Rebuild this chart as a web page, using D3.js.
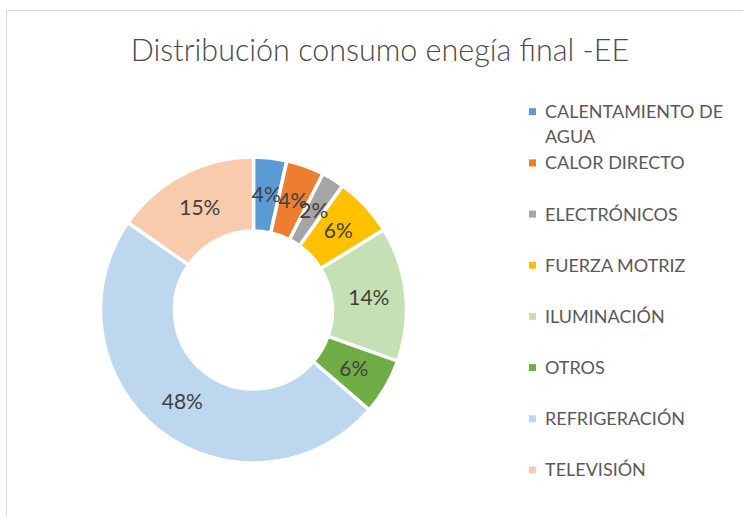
<!DOCTYPE html>
<html>
<head>
<meta charset="utf-8">
<script src="https://cdn.jsdelivr.net/npm/d3@7/dist/d3.min.js"></script>
<style>
  html, body { margin: 0; padding: 0; background: #fff; }
  svg { display: block; }
</style>
</head>
<body>
<svg id="chart" width="743" height="516"></svg>
<script>
const title = "Distribución consumo enegía final -EE";
const categories = ["CALENTAMIENTO DE AGUA", "CALOR DIRECTO", "ELECTRÓNICOS", "FUERZA MOTRIZ", "ILUMINACIÓN", "OTROS", "REFRIGERACIÓN", "TELEVISIÓN"];
const values = [3.5, 4.0, 2.4, 6.3, 14.2, 5.9, 48.3, 15.3];
const colors = ["#5B9BD5", "#ED7D31", "#A5A5A5", "#FFC000", "#C5E0B4", "#70AD47", "#BDD7EE", "#F8CBAD"];

const W = 743, H = 516;
const svg = d3.select("#chart");

// chart area border
svg.append("rect")
  .attr("x", 6.5).attr("y", 10.5)
  .attr("width", W).attr("height", H)
  .attr("fill", "#fff")
  .attr("stroke", "#d9d9d9").attr("stroke-width", 1);

// title
svg.append("text")
  .attr("x", 380).attr("y", 61)
  .attr("text-anchor", "middle")
  .attr("font-family", "Lato, 'Open Sans', sans-serif")
  .attr("font-weight", 300)
  .attr("font-size", 30.5)
  .attr("fill", "#4a4a4a")
  .text(title);

// donut
const cx = 253.5, cy = 310, rOuter = 153, rInner = 79;
const total = d3.sum(values);
const pie = d3.pie().sort(null).value(d => d.v);
const arcs = pie(categories.map((c, i) => ({ c, v: values[i], color: colors[i] })));
const arc = d3.arc().innerRadius(rInner).outerRadius(rOuter);
const labelArc = d3.arc().innerRadius((rInner + rOuter) / 2).outerRadius((rInner + rOuter) / 2);

const g = svg.append("g").attr("transform", `translate(${cx},${cy})`);
g.selectAll("path.slice").data(arcs).join("path")
  .attr("class", "slice")
  .attr("d", arc)
  .attr("fill", d => d.data.color)
  .attr("stroke", "#fff")
  .attr("stroke-width", 3.5)
  .attr("stroke-linejoin", "miter");

const pct = d3.format(".0%");
g.selectAll("text.lbl").data(arcs).join("text")
  .attr("class", "lbl")
  .attr("transform", d => `translate(${labelArc.centroid(d)})`)
  .attr("text-anchor", "middle")
  .attr("dy", "0.36em")
  .attr("font-family", "Lato, 'Open Sans', sans-serif")
  .attr("font-size", 21)
  .attr("fill", "#404040")
  .text(d => pct(d.data.v / total));

// legend
const legendY = d3.scaleLinear().domain([0, categories.length - 1]).range([111.7, 470]);
const lg = svg.append("g");
const maxW = 185;
categories.forEach((c, i) => {
  const y = legendY(i);
  lg.append("rect")
    .attr("x", 529).attr("y", y - 3.5)
    .attr("width", 7).attr("height", 7)
    .attr("fill", colors[i]);
  const t = lg.append("text")
    .attr("x", 545).attr("y", y)
    .attr("font-family", "Lato, 'Open Sans', sans-serif")
    .attr("font-size", 18)
    .attr("fill", "#595959");
  // simple word wrap
  const words = c.split(" ");
  let line = [];
  let lineNo = 0;
  let tspan = t.append("tspan").attr("x", 545).attr("y", y).attr("dy", "0.36em");
  words.forEach(w => {
    line.push(w);
    tspan.text(line.join(" "));
    if (tspan.node().getComputedTextLength() > maxW && line.length > 1) {
      line.pop();
      tspan.text(line.join(" "));
      line = [w];
      lineNo++;
      tspan = t.append("tspan").attr("x", 545).attr("y", y + lineNo * 25).attr("dy", "0.36em").text(w);
    }
  });
});
</script>
</body>
</html>
